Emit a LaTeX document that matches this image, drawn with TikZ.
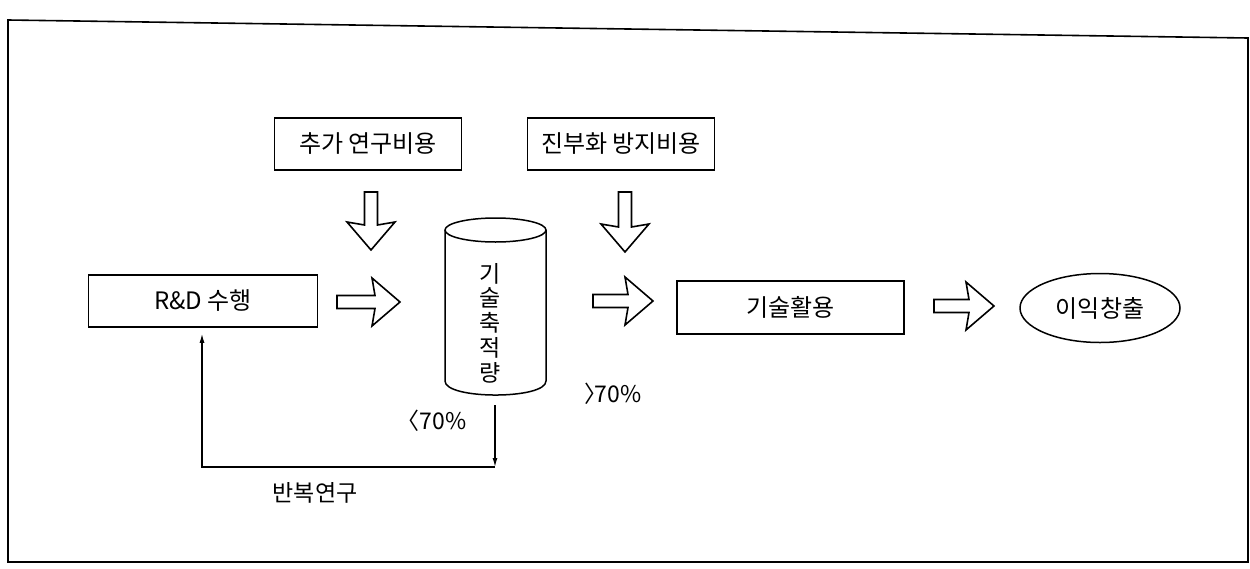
\documentclass[tikz,border=0pt]{standalone}
\usepackage{fontspec}
\setmainfont{Noto Sans CJK KR}
\usetikzlibrary{shapes.geometric,calc,arrows.meta}
\tikzset{
  lbox/.style={draw, line width=1.5pt, inner sep=0pt, font=\fontsize{24}{26}\selectfont},
  lbl/.style={inner sep=0pt, font=\fontsize{23}{25}\selectfont},
  hollow/.style={draw, line width=1.6pt, line join=miter, fill=white},
  fb/.style={line width=1.3pt, -{Latex[length=9pt,width=5pt]}},
  frame/.style={line width=1.6pt}
}
\newcommand\harrow[4]{%
  \begin{scope}[shift={(#1,#2)},rotate=#3]
    \draw[hollow] (0,0) -- (-28,-24) -- (-25,-6.5) -- (-#4,-6.5) -- (-#4,6.5) -- (-25,6.5) -- (-28,24) -- cycle;
  \end{scope}}
\begin{document}
\begin{tikzpicture}[x=1pt,y=-1pt]
\useasboundingbox (0,0) rectangle (1250,568);
% outer frame
\draw[frame] (8,20) -- (1248,38) -- (1248,562) -- (8,562) -- cycle;

% boxes
\node[lbox, minimum width=187pt, minimum height=52pt] (cost1) at (368,144) {추가 연구비용};
\node[lbox, minimum width=187pt, minimum height=52pt] (cost2) at (621,144) {진부화 방지비용};
\node[lbox, minimum width=229pt, minimum height=52pt] (rd) at (203,301) {R\&D 수행};
\node[lbox, minimum width=227pt, minimum height=53pt] (use) at (790.5,307.5) {기술활용};
\node[lbox, ellipse, minimum width=160pt, minimum height=69pt] (profit) at (1100,308) {이익창출};

% cylinder
\draw[line width=1.5pt] (495.5,230) ellipse [x radius=50.5, y radius=12];
\draw[line width=1.5pt] (445,230) -- (445,381) .. controls (445,399.7) and (546,399.7) .. (546,381) -- (546,230);
\node[lbl, align=center, font=\fontsize{23}{24.8}\selectfont] (stock) at (490,323) {기\\술\\축\\적\\량};
\coordinate (cylbot) at (495,395);

% hollow arrows
\harrow{371}{250}{-90}{58}
\harrow{625}{252}{-90}{60}
\harrow{400}{302}{0}{63}
\harrow{653}{301}{0}{60}
\harrow{994}{306}{0}{60}

% labels
\node[lbl] (gt) at (613,394) {〉\kern-0.55em 70\%};
\node[lbl] (lt) at (438,421) {\kern-0.55em〈70\%};
\node[lbl] (rep) at (315,493) {반복연구};

% feedback
\coordinate (f0) at ($(cylbot)+(0,10)$);
\coordinate (f1) at (495,467);
\coordinate (f2) at (202,467);
\draw[fb] (f0) -- (f1);
\draw[fb] (f1) -- (f2) -- ($(rd.south -| f2)+(0,6)$);
\end{tikzpicture}
\end{document}
